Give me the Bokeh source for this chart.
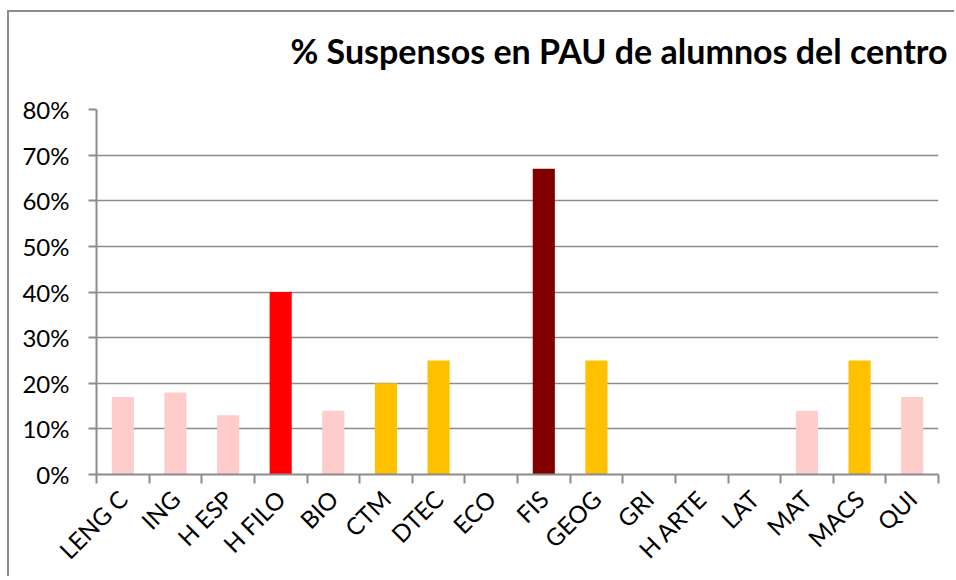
import math
from bokeh.plotting import figure
from bokeh.models import FixedTicker, NumeralTickFormatter, ColumnDataSource, Range1d, Title
from bokeh.embed import file_html
from bokeh.resources import INLINE

title_text = "% Suspensos en PAU de alumnos del centro"
categories = ["LENG C", "ING", "H ESP", "H FILO", "BIO", "CTM", "DTEC", "ECO",
              "FIS", "GEOG", "GRI", "H ARTE", "LAT", "MAT", "MACS", "QUI"]
values = [0.17, 0.18, 0.13, 0.40, 0.14, 0.20, 0.25, 0.0,
          0.67, 0.25, 0.0, 0.0, 0.0, 0.14, 0.25, 0.17]
colors = ["#FFCCCC", "#FFCCCC", "#FFCCCC", "#FF0000", "#FFCCCC", "#FFC000", "#FFC000", "#FFCCCC",
          "#800000", "#FFC000", "#FFCCCC", "#FFCCCC", "#FFCCCC", "#FFCCCC", "#FFC000", "#FFCCCC"]
y_ticks = [0, 0.1, 0.2, 0.3, 0.4, 0.5, 0.6, 0.7, 0.8]

n = len(categories)
centers = [i + 0.5 for i in range(n)]
source = ColumnDataSource(dict(x=centers, top=values, color=colors, name=categories))

FONT = "Lato"

p = figure(width=947, height=566, output_backend="svg", toolbar_location=None,
           x_range=Range1d(0, n), y_range=Range1d(0, 0.8),
           min_border_left=87, min_border_right=18, min_border_top=97, min_border_bottom=104)
p.styles = {"border-left": "2px solid #8c8c8c", "border-top": "2px solid #8c8c8c",
            "margin-left": "7px", "margin-top": "10px"}

p.vbar(x="x", top="top", width=0.42, bottom=0, fill_color="color", line_color=None, source=source)

# spacer between frame and title, then the title itself (outermost)
spacer = Title(text=" ", text_font_size="1px", standoff=17)
p.add_layout(spacer, "above")
main_title = Title(text=title_text, align="right", vertical_align="top",
                   text_font=FONT, text_font_style="bold", text_font_size="34px",
                   text_color="#000000", offset=-9, standoff=34)
p.add_layout(main_title, "above")

p.outline_line_color = None
p.background_fill_color = "white"
p.border_fill_color = "white"

# y axis
p.yaxis.ticker = FixedTicker(ticks=y_ticks)
p.yaxis.formatter = NumeralTickFormatter(format="0%")
p.yaxis.major_label_text_font = FONT
p.yaxis.major_label_text_font_size = "24px"
p.yaxis.major_label_text_color = "#000000"
p.yaxis.axis_line_color = "#8c8c8c"
p.yaxis.axis_line_width = 2
p.yaxis.major_tick_line_color = "#8c8c8c"
p.yaxis.major_tick_line_width = 2
p.yaxis.major_tick_out = 8
p.yaxis.major_tick_in = 0
p.yaxis.minor_tick_line_color = None
p.yaxis.major_label_standoff = 19

# x axis: labels at centres, boundary ticks as minor ticks
boundaries = list(range(n + 1))
p.xaxis.ticker = FixedTicker(ticks=centers, minor_ticks=boundaries)
p.xaxis.major_label_overrides = {c: name for c, name in zip(centers, categories)}
p.xaxis.major_label_orientation = math.pi / 4
p.xaxis.major_label_text_font = FONT
p.xaxis.major_label_text_font_size = "24px"
p.xaxis.major_label_text_color = "#000000"
p.xaxis.major_tick_line_color = None
p.xaxis.minor_tick_line_color = "#8c8c8c"
p.xaxis.minor_tick_line_width = 2
p.xaxis.minor_tick_out = 9
p.xaxis.minor_tick_in = 0
p.xaxis.axis_line_color = "#8c8c8c"
p.xaxis.axis_line_width = 2
p.xaxis.major_label_standoff = 11

p.xgrid.grid_line_color = None
p.ygrid.ticker = FixedTicker(ticks=y_ticks)
p.ygrid.grid_line_color = "#8c8c8c"
p.ygrid.grid_line_width = 1.5

open("out.html", "w").write(file_html(p, INLINE))
